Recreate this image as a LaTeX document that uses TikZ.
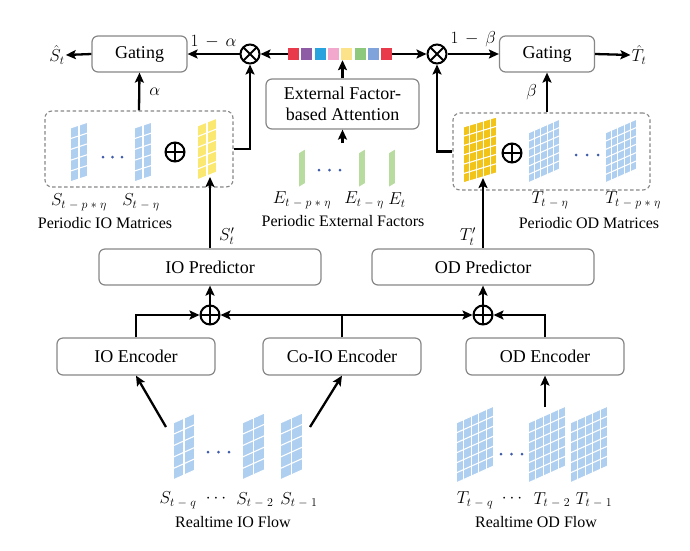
\documentclass[tikz,border=0pt]{standalone}
\usepackage{fontspec}
\setmainfont{Liberation Serif}
\usetikzlibrary{arrows.meta}

\definecolor{boxgray}{RGB}{135,135,135}
\definecolor{ioblue}{RGB}{174,207,240}
\definecolor{ioyellow}{RGB}{250,232,112}
\definecolor{odgold}{RGB}{242,196,24}
\definecolor{extgreen}{RGB}{184,220,160}
\definecolor{dotblue}{RGB}{62,92,170}
\definecolor{barred}{RGB}{232,58,75}
\definecolor{barpurple}{RGB}{142,91,166}
\definecolor{barblue}{RGB}{41,163,221}
\definecolor{barpink}{RGB}{242,167,204}
\definecolor{baryellow}{RGB}{252,227,138}
\definecolor{bargreen}{RGB}{141,200,124}
\definecolor{barperi}{RGB}{127,163,218}

% slanted grid of cells: x, y (bottom left), cols, rows, width, height, slant, colour
\newcommand{\gridmat}[8]{%
  \begin{scope}[shift={(#1,#2)},yslant=#7]
    \fill[#8] (0,0) rectangle (#5,-#6);
    \foreach \k in {0,...,#3} \draw[white,line width=1.1pt] ({\k*#5/#3},0) -- ({\k*#5/#3},-#6);
    \foreach \k in {0,...,#4} \draw[white,line width=1.1pt] (0,{-\k*#6/#4}) -- (#5,{-\k*#6/#4});
  \end{scope}}

\tikzset{
  blk/.style={draw=boxgray, line width=1.2pt, rounded corners=6pt, fill=white, align=center,
    inner sep=0pt, font=\fontsize{18}{21}\selectfont},
  dashbox/.style={draw=boxgray, dash pattern=on 3.5pt off 2.5pt, line width=1.1pt, rounded corners=7pt, inner sep=0pt},
  arr/.style={line width=2.3pt, -{Stealth[length=10pt,width=9pt,inset=2pt]}},
  opcirc/.style={circle, draw, line width=2pt, minimum size=19pt, inner sep=0pt},
  otimes/.style={opcirc, path picture={\draw[line width=2pt]
    (path picture bounding box.center) ++(45:9.5pt) -- ++(225:19pt)
    (path picture bounding box.center) ++(135:9.5pt) -- ++(-45:19pt);}},
  oplus/.style={opcirc, path picture={\draw[line width=2pt]
    (path picture bounding box.center) ++(0:9.5pt) -- ++(180:19pt)
    (path picture bounding box.center) ++(90:9.5pt) -- ++(270:19pt);}},
  lbl/.style={inner sep=1pt, font=\fontsize{16}{18}\selectfont},
  mlbl/.style={inner sep=1pt, font=\fontsize{17}{19}\selectfont},
}

\begin{document}
\begin{tikzpicture}[x=1pt,y=-1pt]
\useasboundingbox (0,0) rectangle (690,550);

% top row
\node[blk, minimum width=95pt, minimum height=36pt] (gateIO) at (139.5,54) {Gating};
\node[blk, minimum width=95pt, minimum height=36pt] (gateOD) at (547,54) {Gating};
\node[mlbl] (shatS) at (57,55) {$\hat{S}_t$};
\node[mlbl] (shatT) at (639,55) {$\hat{T}_t$};
\node[otimes] (mulIO) at (250,54) {};
\node[otimes] (mulOD) at (437,54) {};
\foreach \c [count=\i] in {barred,barpurple,barblue,barpink,baryellow,bargreen,barperi,barred}
  \node[fill=\c, minimum width=11pt, minimum height=12pt, inner sep=0pt] (fac\i) at ({280.2+13.3*\i},54) {};
\node[blk, minimum width=153pt, minimum height=50pt] (efa) at (342.5,104) {External Factor-\\based Attention};

\draw[arr] (gateIO.west) -- (shatS.east);
\draw[arr] (gateOD.east) -- (shatT.west);
\draw[arr] (mulIO.west) -- node[mlbl, above=4pt] {$1\,-\,\alpha$} (gateIO.east);
\draw[arr] (mulOD.east) -- node[mlbl, above=5pt] {$1\,-\,\beta$} (gateOD.west);
\draw[arr] (fac1.west) -- (mulIO.east);
\draw[arr] (fac8.east) -- (mulOD.west);
\draw[arr] (efa.north) -- (efa.north |- fac5.south);

% periodic IO matrices
\node[dashbox, minimum width=188pt, minimum height=76pt] (perIO) at (139,149) {};
\gridmat{70}{182}{2}{5}{18}{54}{0.33}{ioblue}
\gridmat{134}{182}{2}{5}{18}{54}{0.33}{ioblue}
\gridmat{197}{180}{2}{5}{20}{54}{0.4}{ioyellow}
\foreach \px in {103,112.5,122} \fill[dotblue] (\px,157) circle (1.5pt);
\node[oplus] (sumIO) at (175,152) {};
\node[mlbl] (sPer) at (79,202) {$S_{t\;-\;p\;*\;\eta}$};
\node[mlbl] (sEta) at (141,202) {$S_{t\;-\;\eta}$};
\node[lbl] (perIOtxt) at (105,223) {Periodic IO Matrices};

% periodic external factors
\gridmat{298}{188}{1}{1}{8}{35}{0.6}{extgreen}
\gridmat{358}{188}{1}{1}{8}{35}{0.6}{extgreen}
\gridmat{388}{188}{1}{1}{8}{35}{0.6}{extgreen}
\foreach \px in {319,329.5,340} \fill[dotblue] (\px,170) circle (1.5pt);
\node[mlbl] (ePer) at (302,200) {$E_{t\;-\;p\;*\;\eta}$};
\node[mlbl] (eEta) at (364,200) {$E_{t\;-\;\eta}$};
\node[mlbl] (eNow) at (397,200) {$E_t$};
\node[lbl] (extTxt) at (343,221) {Periodic External Factors};
\coordinate (extTop) at (343,143);
\draw[arr] (efa.south |- extTop) -- (efa.south);

% periodic OD matrices
\node[dashbox, minimum width=197pt, minimum height=77pt] (perOD) at (551.5,151.5) {};
\gridmat{463}{183}{5}{6}{34}{56}{0.3}{odgold}
\gridmat{528}{183}{5}{6}{32}{50}{0.44}{ioblue}
\gridmat{605}{183}{5}{6}{32}{50}{0.44}{ioblue}
\foreach \px in {576,587,598} \fill[dotblue] (\px,155) circle (1.5pt);
\node[oplus] (sumOD) at (512,153) {};
\node[mlbl] (tEta) at (550,200) {$T_{t\;-\;\eta}$};
\node[mlbl] (tPer) at (633,200) {$T_{t\;-\;p\;*\;\eta}$};
\node[lbl] (perODtxt) at (589,223) {Periodic OD Matrices};

\draw[arr] (perIO.north) -- node[mlbl, right=8pt] {$\alpha$} (gateIO.south);
\draw[arr] (perOD.north -| gateOD.south) -- node[mlbl, left=8pt] {$\beta$} (gateOD.south);
\draw[arr] (perIO.east) -| (mulIO.south);
\draw[arr] (perOD.west) -| (mulOD.south);

% predictors
\node[blk, minimum width=222pt, minimum height=36pt] (ioPred) at (210,267) {IO Predictor};
\node[blk, minimum width=222pt, minimum height=36pt] (odPred) at (483,267) {OD Predictor};
\coordinate (ylIO) at (210,177);
\coordinate (ylOD) at (483,178);
\draw[arr] (ioPred.north) -- node[mlbl, pos=0.17, right=7pt] {$S'_t$} (ylIO);
\draw[arr] (odPred.north) -- node[mlbl, pos=0.17, left=5pt] {$T'_t$} (ylOD);

% encoders
\node[oplus] (addIO) at (210,315) {};
\node[oplus] (addOD) at (483,315) {};
\node[blk, minimum width=158pt, minimum height=37pt] (ioEnc) at (136,356.5) {IO Encoder};
\node[blk, minimum width=158pt, minimum height=37pt] (coEnc) at (342,356.5) {Co-IO Encoder};
\node[blk, minimum width=158pt, minimum height=37pt] (odEnc) at (545,356.5) {OD Encoder};
\draw[arr] (addIO.north) -- (ioPred.south);
\draw[arr] (addOD.north) -- (odPred.south);
\draw[arr] (ioEnc.north) |- (addIO.west);
\draw[arr] (coEnc.north) |- (addIO.east);
\draw[arr] (coEnc.north) |- (addOD.west);
\draw[arr] (odEnc.north) |- (addOD.east);

% realtime IO flow
\gridmat{173}{480}{2}{5}{22}{57}{0.45}{ioblue}
\gridmat{242}{480}{2}{5}{23}{57}{0.45}{ioblue}
\gridmat{280}{480}{2}{5}{23}{57}{0.45}{ioblue}
\foreach \px in {208,218.5,229} \fill[dotblue] (\px,452) circle (1.5pt);
\node[mlbl] (sQ) at (178,500) {$S_{t\;-\;q}$};
\node[mlbl] (sDots) at (216,499) {$\cdots$};
\node[mlbl] (sTwo) at (255,500) {$S_{t\;-\;2}$};
\node[mlbl] (sOne) at (299,500) {$S_{t\;-\;1}$};
\node[lbl] (ioFlowTxt) at (233,522) {Realtime IO Flow};
\coordinate (ioFlowL) at (166,427);
\coordinate (ioFlowR) at (310,427);
\draw[arr] (ioFlowL) -- (ioEnc.south);
\draw[arr] (ioFlowR) -- (coEnc.south);

% realtime OD flow
\gridmat{456}{483}{5}{6}{38}{60}{0.45}{ioblue}
\gridmat{528}{483}{5}{6}{38}{60}{0.45}{ioblue}
\gridmat{570}{483}{5}{6}{38}{60}{0.45}{ioblue}
\foreach \px in {501,511.5,522} \fill[dotblue] (\px,454) circle (1.5pt);
\node[mlbl] (tQ) at (475,500) {$T_{t\;-\;q}$};
\node[mlbl] (tDots) at (512,499) {$\cdots$};
\node[mlbl] (tTwo) at (552,500) {$T_{t\;-\;2}$};
\node[mlbl] (tOne) at (594,500) {$T_{t\;-\;1}$};
\node[lbl] (odFlowTxt) at (536,522) {Realtime OD Flow};
\coordinate (odFlow) at (545,407);
\draw[arr] (odFlow) -- (odEnc.south);
\end{tikzpicture}
\end{document}
